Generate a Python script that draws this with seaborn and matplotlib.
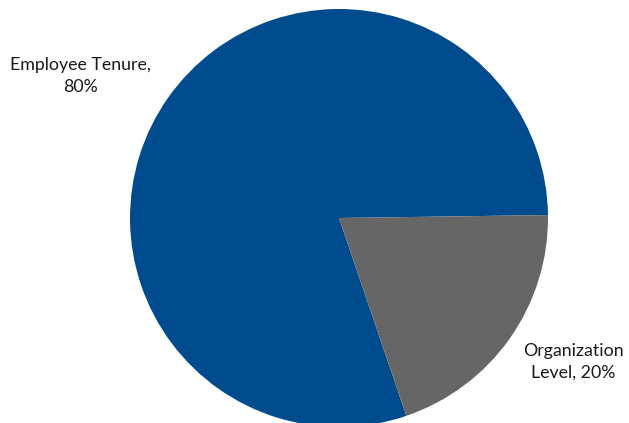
import matplotlib
matplotlib.use("Agg")
import matplotlib.pyplot as plt
import seaborn as sns

# Share of each factor
categories = ["Employee Tenure", "Organization Level"]
shares = [80, 20]
colors = ["#004B8D", "#666666"]

sns.set_theme(style="white")
plt.rcParams["font.family"] = ["Lato", "DejaVu Sans"]

fig = plt.figure(figsize=(6.29, 4.23), dpi=100)
fig.patch.set_facecolor("white")

# Pie area: centre at (339, 218) px, radius 209 px
W, H = 629, 423
cx, cy, r = 339, 218, 209
ax = fig.add_axes([(cx - r) / W, (H - cy - r) / H, 2 * r / W, 2 * r / H])

wedges, _ = ax.pie(
    shares,
    colors=colors,
    startangle=0.8,
    counterclock=True,
    radius=1.0,
    wedgeprops=dict(linewidth=0),
)
ax.set_xlim(-1, 1)
ax.set_ylim(-1, 1)
ax.set_aspect("equal")
ax.axis("off")

# Category labels placed outside the pie
label_pos = [(-1.239, 0.679), (1.12, -0.689)]
label_text = [
    f"{categories[0]},\n{shares[0]}%",
    "Organization\nLevel, " + f"{shares[1]}%",
]
for (x, y), txt in zip(label_pos, label_text):
    ax.text(x, y, txt, ha="center", va="center", fontsize=12.8,
            color="#1a1a1a", linespacing=1.42, clip_on=False)

fig.savefig("out.png", dpi=100, facecolor="white")
